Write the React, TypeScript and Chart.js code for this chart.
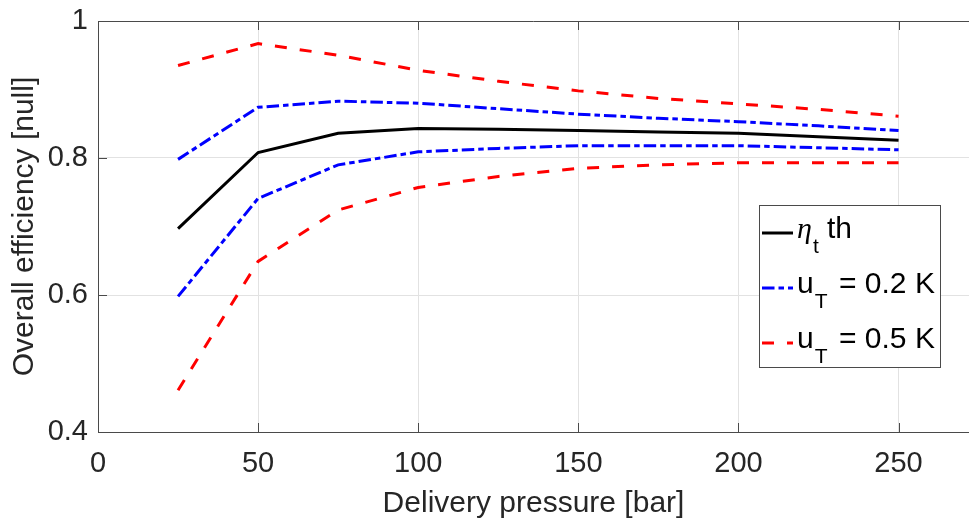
import React, { useEffect, useRef } from "react";
import { Chart, registerables } from "chart.js";

Chart.register(...registerables);

const pressure = [25, 50, 75, 100, 125, 150, 175, 200, 225, 250];
const etaTh = [0.697, 0.808, 0.836, 0.843, 0.842, 0.840, 0.838, 0.836, 0.831, 0.826];
const u02Upper = [0.798, 0.874, 0.883, 0.880, 0.872, 0.864, 0.858, 0.853, 0.847, 0.840];
const u02Lower = [0.598, 0.741, 0.790, 0.809, 0.814, 0.818, 0.818, 0.818, 0.815, 0.812];
const u05Upper = [0.935, 0.967, 0.950, 0.928, 0.912, 0.898, 0.887, 0.879, 0.871, 0.861];
const u05Lower = [0.461, 0.649, 0.724, 0.757, 0.773, 0.785, 0.790, 0.793, 0.793, 0.793];

const xTicks = [0, 50, 100, 150, 200, 250];
const yTicks = [0.4, 0.6, 0.8, 1];

const FONT = "'Liberation Sans', Arial, Helvetica, sans-serif";
const TEXT = "#262626";
const AXIS = "#4a4a4a";
const GRID = "#e2e2e2";

const DASH_DOT = [12.5, 4, 5.5, 4];
const DASH = [12, 13];

const toPts = (ys: number[]) => pressure.map((x, i) => ({ x, y: ys[i] }));

const framePlugin = {
  id: "matlabFrame",
  afterDraw(chart: any) {
    const { ctx, chartArea } = chart;
    const xs = chart.scales.x;
    const ys = chart.scales.y;
    const tl = 9;
    ctx.save();
    ctx.strokeStyle = AXIS;
    ctx.lineWidth = 1;
    ctx.beginPath();
    ctx.moveTo(chartArea.left, chartArea.top + 0.5);
    ctx.lineTo(chartArea.right, chartArea.top + 0.5);
    xTicks.forEach((v) => {
      const px = Math.round(xs.getPixelForValue(v)) + 0.5;
      ctx.moveTo(px, chartArea.bottom);
      ctx.lineTo(px, chartArea.bottom - tl);
      ctx.moveTo(px, chartArea.top);
      ctx.lineTo(px, chartArea.top + tl);
    });
    yTicks.forEach((v) => {
      const py = Math.round(ys.getPixelForValue(v)) + 0.5;
      ctx.moveTo(chartArea.left, py);
      ctx.lineTo(chartArea.left + tl, py);
    });
    ctx.stroke();
    ctx.restore();
  },
};

type LegendRow = {
  color: string;
  dash: number[];
  main: string;
  mainFont: string;
  sub: string;
  rest: string;
};

const legendRows: LegendRow[] = [
  { color: "#000000", dash: [], main: "\u03b7", mainFont: `italic 30px 'Liberation Serif', 'Times New Roman', serif`, sub: "t", rest: "th" },
  { color: "#0000ff", dash: DASH_DOT, main: "u", mainFont: `30px ${FONT}`, sub: "T", rest: "= 0.2 K" },
  { color: "#ff0000", dash: DASH, main: "u", mainFont: `30px ${FONT}`, sub: "T", rest: "= 0.5 K" },
];

const legendPlugin = {
  id: "matlabLegend",
  afterDraw(chart: any) {
    const { ctx, chartArea } = chart;
    const boxW = 182;
    const boxH = 163;
    const boxRight = chartArea.right - 28;
    const boxLeft = boxRight - boxW;
    const boxTop = chartArea.top + 184;
    ctx.save();
    ctx.fillStyle = "#ffffff";
    ctx.fillRect(boxLeft, boxTop, boxW, boxH);
    ctx.strokeStyle = AXIS;
    ctx.lineWidth = 1;
    ctx.strokeRect(boxLeft + 0.5, boxTop + 0.5, boxW - 1, boxH - 1);
    legendRows.forEach((r, i) => {
      const lineY = boxTop + 28 + i * 55;
      const baseY = lineY + 5;
      ctx.strokeStyle = r.color;
      ctx.lineWidth = 3;
      ctx.setLineDash(r.dash);
      ctx.beginPath();
      ctx.moveTo(boxLeft + 3, lineY);
      ctx.lineTo(boxLeft + 34, lineY);
      ctx.stroke();
      ctx.setLineDash([]);
      ctx.fillStyle = "#000000";
      ctx.textBaseline = "alphabetic";
      ctx.textAlign = "left";
      let x = boxLeft + 38;
      ctx.font = r.mainFont;
      ctx.fillText(r.main, x, baseY);
      x += ctx.measureText(r.main).width + 1;
      ctx.font = `21px ${FONT}`;
      ctx.fillText(r.sub, x, baseY + 15);
      ctx.font = `30px ${FONT}`;
      const restX = i === 0 ? boxLeft + 68 : boxLeft + 80;
      ctx.fillText(r.rest, restX, baseY);
    });
    ctx.restore();
  },
};

export default function App() {
  const ref = useRef<HTMLCanvasElement | null>(null);

  useEffect(() => {
    if (!ref.current) return;
    const lineDs = (label: string, ys: number[], color: string, dash: number[]) => ({
      label,
      data: toPts(ys),
      borderColor: color,
      backgroundColor: color,
      borderWidth: 3,
      borderDash: dash,
      borderCapStyle: "butt" as const,
      pointRadius: 0,
      pointHoverRadius: 0,
      tension: 0,
      fill: false,
    });
    const chart = new Chart(ref.current, {
      type: "line",
      data: {
        datasets: [
          lineDs("\u03b7t th", etaTh, "#000000", []),
          lineDs("uT = 0.2 K", u02Upper, "#0000ff", DASH_DOT),
          lineDs("uT = 0.2 K (lower)", u02Lower, "#0000ff", DASH_DOT),
          lineDs("uT = 0.5 K", u05Upper, "#ff0000", DASH),
          lineDs("uT = 0.5 K (lower)", u05Lower, "#ff0000", DASH),
        ],
      },
      options: {
        animation: false,
        responsive: true,
        maintainAspectRatio: false,
        layout: { padding: { top: 21, right: 0, bottom: 0, left: 0 } },
        plugins: {
          legend: { display: false },
          tooltip: { enabled: false },
          title: { display: false },
        },
        scales: {
          x: {
            type: "linear",
            min: 0,
            max: 272,
            afterFit: (s: any) => {
              s.height = 87;
              s.paddingLeft = 0;
              s.paddingRight = 0;
            },
            ticks: {
              stepSize: 50,
              includeBounds: false,
              padding: 15,
              color: TEXT,
              font: { family: FONT, size: 29 },
              maxRotation: 0,
              callback: (v: any) => (xTicks.includes(Number(v)) ? String(v) : ""),
            },
            grid: { color: GRID, drawTicks: false, lineWidth: 1 },
            border: { display: true, color: AXIS, width: 1 },
            title: {
              display: true,
              text: "Delivery pressure [bar]",
              color: TEXT,
              font: { family: FONT, size: 30 },
              padding: { top: 0, bottom: -3 },
            },
          },
          y: {
            type: "linear",
            min: 0.4,
            max: 1,
            afterFit: (s: any) => {
              s.width = 98;
              s.paddingTop = 0;
              s.paddingBottom = 0;
            },
            ticks: {
              stepSize: 0.2,
              padding: 10,
              color: TEXT,
              font: { family: FONT, size: 29 },
              callback: (v: any) => String(Number(Number(v).toFixed(1))),
            },
            grid: { color: GRID, drawTicks: false, lineWidth: 1 },
            border: { display: true, color: AXIS, width: 1 },
            title: {
              display: true,
              text: "Overall efficiency [null]",
              color: TEXT,
              font: { family: FONT, size: 30 },
              padding: { top: 7, bottom: 0 },
            },
          },
        },
      },
      plugins: [framePlugin, legendPlugin],
    });
    return () => chart.destroy();
  }, []);

  return (
    <div style={{ position: "absolute", left: 0, top: 0, width: 969, height: 519, background: "#ffffff" }}>
      <canvas ref={ref} />
    </div>
  );
}
